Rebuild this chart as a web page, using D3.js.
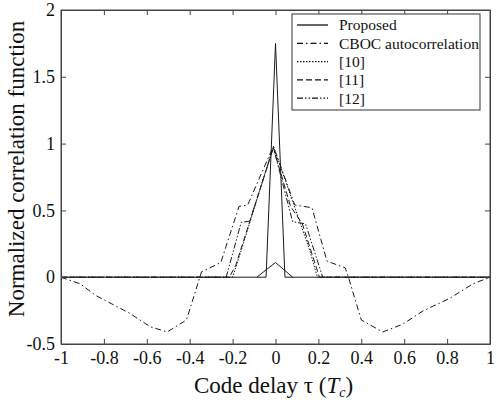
<!DOCTYPE html>
<html>
<head>
<meta charset="utf-8">
<script src="https://cdn.jsdelivr.net/npm/d3@7"></script>
<style>
  body { margin: 0; background: #fff; }
  text { font-family: "Liberation Serif", "Times New Roman", serif; fill: #111; }
</style>
</head>
<body>
<svg id="chart"></svg>
<script>
// chart size
const width = 497;
const height = 402;
const margin = { top: 10, right: 7, bottom: 58, left: 61 };

// data
const xTicks = [-1, -0.8, -0.6, -0.4, -0.2, 0, 0.2, 0.4, 0.6, 0.8, 1];
const yTicks = [-0.5, 0, 0.5, 1, 1.5, 2];

const proposedPeak = [[-1, 0], [-0.044, 0], [0, 1.75], [0.044, 0], [1, 0]];
const proposedSide = [[-0.087, 0], [0, 0.11], [0.08, 0]];
const cboc = [[-1, 0], [-0.91, -0.05], [-0.84, -0.135], [-0.68, -0.27], [-0.585, -0.37],
  [-0.505, -0.41], [-0.415, -0.32], [-0.345, 0.04], [-0.255, 0.11], [-0.17, 0.53],
  [-0.13, 0.54], [-0.01, 0.98], [0.09, 0.54], [0.17, 0.52], [0.24, 0.12], [0.325, 0.07],
  [0.34, 0], [0.40, -0.32], [0.50, -0.41], [0.595, -0.35], [0.69, -0.25], [0.81, -0.16],
  [0.92, -0.05], [1, 0]];
const ref10 = [[-1, 0], [-0.2, 0], [-0.16, 0.2], [-0.01, 0.98], [0.16, 0.2], [0.195, 0], [1, 0]];
const ref11 = [[-1, 0], [-0.215, 0], [-0.185, 0.09], [-0.01, 0.97], [0.07, 0.53],
  [0.125, 0.4], [0.205, 0], [1, 0]];
const ref12 = [[-1, 0], [-0.23, 0], [-0.16, 0.41], [-0.12, 0.42], [-0.01, 0.97],
  [0.08, 0.415], [0.14, 0.40], [0.22, 0], [1, 0]];

const legendNames = ["Proposed", "CBOC autocorrelation", "[10]", "[11]", "[12]"];
const legendDash = ["none", "6,3,1.5,3", "1.5,1.5", "6,3", "6,2,1.5,2,1.5,2"];

const svg = d3.select("#chart")
    .attr("width", width)
    .attr("height", height);

const x = d3.scaleLinear().domain([-1, 1]).range([margin.left, width - margin.right]);
const y = d3.scaleLinear().domain([-0.5, 2]).range([height - margin.bottom, margin.top]);

const line = d3.line().x(d => x(d[0])).y(d => y(d[1]));

// series
const series = [
    { data: cboc, dash: legendDash[1] },
    { data: ref10, dash: legendDash[2] },
    { data: ref11, dash: legendDash[3] },
    { data: ref12, dash: legendDash[4] },
    { data: proposedSide, dash: "none" },
    { data: proposedPeak, dash: "none" }
];

svg.selectAll(".series")
    .data(series)
    .enter().append("path")
    .attr("class", "series")
    .attr("d", d => line(d.data))
    .attr("fill", "none")
    .attr("stroke", "#1a1a1a")
    .attr("stroke-width", 1)
    .attr("stroke-dasharray", d => d.dash);

// axes, ticks inside on all four sides (plain hyphen for minus, like the original)
const plotH = y(-0.5) - y(2);
const plotW = x(1) - x(-1);
svg.append("g")
    .attr("transform", `translate(0,${y(-0.5)})`)
    .call(d3.axisBottom(x).tickValues(xTicks).tickSizeInner(-5).tickSizeOuter(0)
        .tickPadding(7).tickFormat(d => String(d)));
svg.append("g")
    .attr("transform", `translate(0,${y(2)})`)
    .call(d3.axisTop(x).tickValues(xTicks).tickSizeInner(-5).tickSizeOuter(0).tickFormat(""));
svg.append("g")
    .attr("transform", `translate(${x(-1)},0)`)
    .call(d3.axisLeft(y).tickValues(yTicks).tickSizeInner(-5).tickSizeOuter(0)
        .tickPadding(6).tickFormat(d => String(d)));
svg.append("g")
    .attr("transform", `translate(${x(1)},0)`)
    .call(d3.axisRight(y).tickValues(yTicks).tickSizeInner(-5).tickSizeOuter(0).tickFormat(""));

svg.selectAll(".tick text")
    .attr("font-size", 18)
    .style("font-family", "Liberation Serif, serif");
svg.selectAll(".domain, .tick line").attr("stroke", "#444");

svg.append("rect")
    .attr("x", x(-1)).attr("y", y(2))
    .attr("width", plotW).attr("height", plotH)
    .attr("fill", "none").attr("stroke", "#444");

// axis titles
svg.append("text")
    .attr("x", x(0) - 2)
    .attr("y", 393)
    .attr("text-anchor", "middle")
    .attr("font-size", 23)
    .html('Code delay τ  (<tspan font-style="italic">T</tspan><tspan font-style="italic" font-size="14" dy="4">c</tspan><tspan dy="-4">)</tspan>');

svg.append("text")
    .attr("transform", `translate(24,${(y(2) + y(-0.5)) / 2 - 8}) rotate(-90)`)
    .attr("text-anchor", "middle")
    .attr("font-size", 23)
    .text("Normalized correlation function");

// legend
const legend = svg.append("g").attr("transform", "translate(292,14)");
legend.append("rect")
    .attr("width", 188).attr("height", 96)
    .attr("fill", "#fff").attr("stroke", "#333");
const items = legend.selectAll(".item")
    .data(legendNames)
    .enter().append("g")
    .attr("transform", (d, i) => `translate(0,${11 + i * 18.3})`);
items.append("line")
    .attr("x1", 5).attr("x2", 36)
    .attr("stroke", "#111").attr("stroke-width", 1.3)
    .attr("stroke-dasharray", (d, i) => legendDash[i]);
items.append("text")
    .attr("x", 47).attr("dy", "0.35em")
    .attr("font-size", 15.5)
    .text(d => d);
</script>
</body>
</html>
